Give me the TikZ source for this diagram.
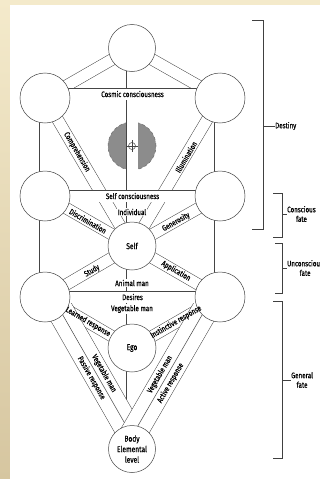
\documentclass[tikz,border=0pt]{standalone}
\usepackage{fontspec}
\setmainfont{Fira Sans}[FakeStretch=0.78, FakeBold=0.6]
\usetikzlibrary{calc}
\pgfdeclarelayer{bg}
\pgfdeclarelayer{chan}
\pgfsetlayers{bg,chan,main}
\definecolor{creamtop}{HTML}{F4EACB}
\definecolor{tanbot}{HTML}{D6C6A0}
\definecolor{inkc}{HTML}{454545}
\begin{document}
\begin{tikzpicture}[x=1pt,y=-1pt,
  ln/.style={draw=inkc, line width=0.5pt},
  chan/.style={draw=inkc, line width=0.5pt, double=white, double distance=11pt},
  chanw/.style={draw=inkc, line width=0.5pt, double=white, double distance=26pt},
  sph/.style={circle, draw=inkc, line width=0.5pt, fill=white, minimum size=48pt, inner sep=0pt, align=center, font=\fontsize{8.5}{10.5}\selectfont},
  lbl/.style={font=\fontsize{8}{9}\selectfont, inner sep=0.5pt},
  lblw/.style={lbl, fill=white, inner sep=1pt},
  brk/.style={draw=black!75, line width=0.9pt},
  side/.style={font=\fontsize{8}{9.5}\selectfont, align=center, inner sep=0pt, anchor=west},
]
\useasboundingbox (0,0) rectangle (320,479);
\begin{pgfonlayer}{bg}
  \fill[creamtop] (0,0) rectangle (320,5);
  \shade[top color=creamtop, bottom color=tanbot] (0,0) rectangle (10,479);
  \fill[white] (10,5) rectangle (320,479);
  \node[circle, fill=black!45, draw=black!55, dashed, line width=0.6pt, minimum size=48pt, inner sep=0pt] (DA) at (132,146) {};
\end{pgfonlayer}

% spheres
\node[sph, minimum size=47pt] (K)  at (132,48) {};
\node[sph, minimum size=50pt] (BI) at (45,98) {};
\node[sph, minimum size=50pt] (CH) at (220,98) {};
\node[sph, minimum size=50pt] (GE) at (45,196) {};
\node[sph, minimum size=50pt] (CE) at (220,196) {};
\node[sph] (TI) at (132,246) {Self};
\node[sph, minimum size=50pt] (HO) at (45,297) {};
\node[sph, minimum size=50pt] (NE) at (220,297) {};
\node[sph] (YE) at (132,348) {Ego};
\node[sph, minimum size=47pt] (MA) at (132,449) {Body\\Elemental\\level};

\begin{pgfonlayer}{chan}
  \draw[chan] (K.center) -- (TI.center);
  \draw[chan] (K.center) -- (BI.center);
  \draw[chan] (K.center) -- (CH.center);
  \draw[chan] (BI.center) -- (GE.center);
  \draw[chan] (CH.center) -- (CE.center);
  \draw[chan] (GE.center) -- (HO.center);
  \draw[chan] (CE.center) -- (NE.center);
  \draw[chan] (BI.center) -- (TI.center);
  \draw[chan] (CH.center) -- (TI.center);
  \draw[chan] (GE.center) -- (TI.center);
  \draw[chan] (CE.center) -- (TI.center);
  \draw[chan] (HO.center) -- (TI.center);
  \draw[chan] (NE.center) -- (TI.center);
  \draw[chan] (TI.center) -- (YE.center);
  \draw[chan] (YE.center) -- (MA.center);
  \draw[chan] (HO.center) -- (YE.center);
  \draw[chan] (NE.center) -- (YE.center);
  % two-lane channels
  \draw[chanw] ($(HO.center)!6.5pt!90:(MA.center)$) -- ($(MA.center)!6.5pt!-90:(HO.center)$);
  \draw[ln] ($(HO.center)!6.5pt!90:(MA.center)$) -- ($(MA.center)!6.5pt!-90:(HO.center)$);
  \draw[chanw] ($(MA.center)!6.5pt!90:(NE.center)$) -- ($(NE.center)!6.5pt!-90:(MA.center)$);
  \draw[ln] ($(MA.center)!6.5pt!90:(NE.center)$) -- ($(NE.center)!6.5pt!-90:(MA.center)$);
  % horizontal bars
  \draw[chan] ([yshift=4pt]BI.center) -- node[lbl] {Cosmic consciousness} ([yshift=4pt]CH.center);
  \draw[chan] (GE.center) -- node[lbl] {Self consciousness} (CE.center);
  \draw[chan] (HO.center) -- node[lbl] {Desires} (NE.center);
\end{pgfonlayer}

% channel labels
\node[lbl, rotate=-59.5] (lcomp) at (77,152) {Comprehension};
\node[lbl, rotate=59.3] (lillu) at (186,157) {Illumination};
\node[lbl, rotate=-29.9] (ldisc) at (88,221) {Discrimination};
\node[lbl, rotate=29.6] (lgen) at (176,222) {Generosity};
\node[lbl, rotate=30.4] (lstud) at (92,271) {Study};
\node[lbl, rotate=-30.1] (lapp) at (176,271) {Application};
\node[lbl, rotate=-30.4] (llearn) at (88,322) {Learned response};
\node[lbl, rotate=30.1] (linst) at (176,322) {Instinctive response};
\node[lbl, rotate=-60.2] (lpass) at (91.5,378) {Passive response};
\node[lbl, rotate=-60.2] (lvegl) at (104,373.5) {Vegetable man};
\node[lbl, rotate=59.9] (lact) at (170.5,383) {Active response};
\node[lbl, rotate=59.9] (lvegr) at (160,374.5) {Vegetable man};
\node[lblw] (lind) at (132,212) {Individual};
\node[lblw] (lanim) at (132,283) {Animal man};
\node[lblw] (lveg) at (132,309) {Vegetable man};

% crosshair
\node[circle, draw=inkc, line width=0.5pt, minimum size=7pt, inner sep=0pt] (X) at (132,146) {};
\draw[ln] ([xshift=-2pt]X.west) -- ([xshift=2pt]X.east);
\draw[ln] ([yshift=2pt]X.north) -- ([yshift=-2pt]X.south);

% brackets
\node[side] (dest) at (275,126) {Destiny};
\draw[brk] (252,20) -- (263,20) -- (263,229) -- (252,229);
\draw[brk] (263,126) -- (dest.west);
\node[side] (cons) at (287,214) {Conscious\\fate};
\draw[brk] (273,193) -- (282,193) -- (282,237) -- (273,237);
\draw[brk] (282,214) -- (cons.west);
\node[side] (uncons) at (287,268) {Unconscious\\fate};
\draw[brk] (275,243) -- (282,243) -- (282,293) -- (275,293);
\draw[brk] (282,268) -- (uncons.west);
\node[side] (gen) at (291,380) {General\\fate};
\draw[brk] (273,301) -- (282,301) -- (282,458) -- (273,458);
\draw[brk] (282,380) -- (gen.west);
\end{tikzpicture}
\end{document}
